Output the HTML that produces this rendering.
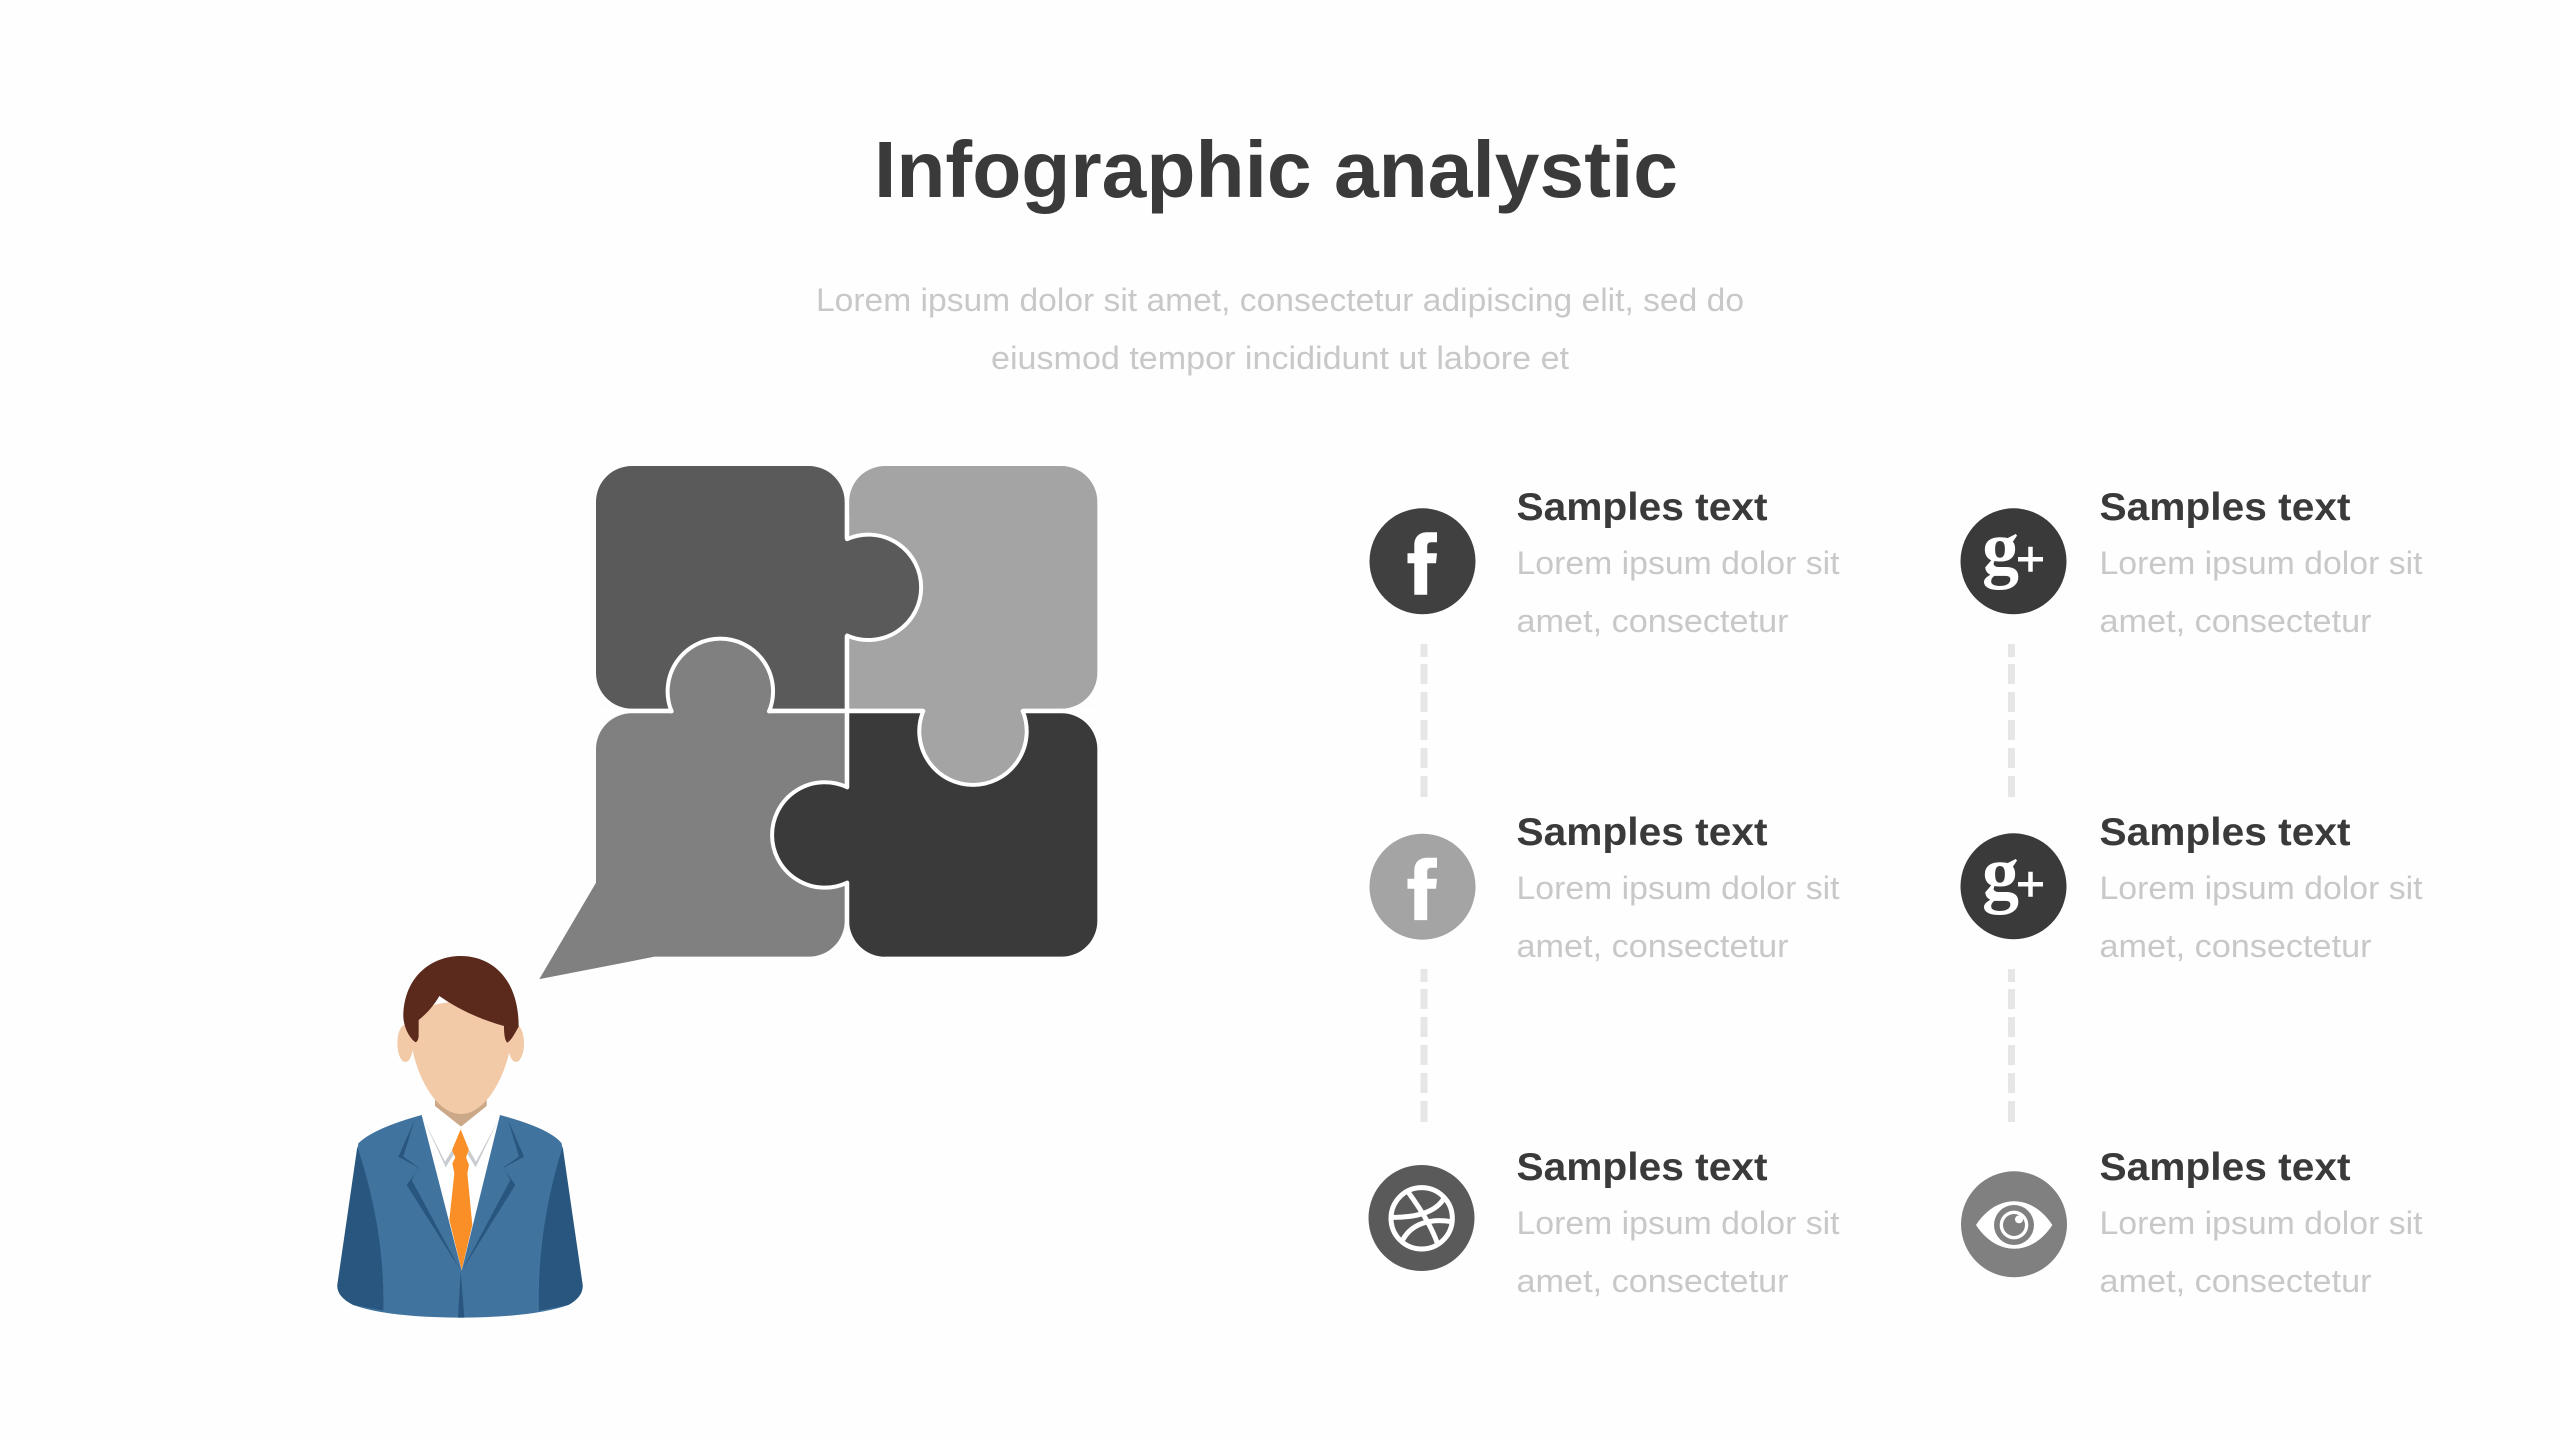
<!DOCTYPE html>
<html>
<head>
<meta charset="utf-8">
<title>Infographic analystic</title>
<style>
html,body{margin:0;padding:0;background:#fefefe;width:2560px;height:1440px;overflow:hidden}
svg{display:block}
text{font-family:"Liberation Sans",sans-serif}
.h{font-weight:700;font-size:39px;fill:#3a3a3a}
.p{font-size:32px;fill:#c8c8c8}
</style>
</head>
<body>
<svg width="2560" height="1440" viewBox="0 0 2560 1440" xmlns="http://www.w3.org/2000/svg">
<rect width="2560" height="1440" fill="#fefefe"/>

<text x="874" y="197" font-size="80" font-weight="700" fill="#3a3a3a" textLength="804" lengthAdjust="spacingAndGlyphs">Infographic analystic</text>
<text x="816" y="311" class="p" textLength="928" lengthAdjust="spacingAndGlyphs">Lorem ipsum dolor sit amet, consectetur adipiscing elit, sed do</text>
<text x="991" y="369" class="p" textLength="578" lengthAdjust="spacingAndGlyphs">eiusmod tempor incididunt ut labore et</text>

<!-- puzzle -->
<g transform="matrix(0.9947 0 0 0.9945 3.159 2.563)">
<path d="M632 466H810A36 36 0 0 1 846 502V710H632A36 36 0 0 1 596 674V502A36 36 0 0 1 632 466Z" fill="#5a5a5a"/>
<path d="M887 466H1064A36 36 0 0 1 1100 502V674A36 36 0 0 1 1064 710H850.500V502A36 36 0 0 1 887 466Z" fill="#a4a4a4"/>
<path d="M632 714.600H846V923A36 36 0 0 1 810 959.400H655L539 982L596 885V750.600A36 36 0 0 1 632 714.600Z" fill="#808080"/>
<path d="M850.500 714.600H1064A36 36 0 0 1 1100 750.600V923A36 36 0 0 1 1064 959.400H887A36 36 0 0 1 850.500 923Z" fill="#3b3a3b"/>
<g stroke-linecap="round">
<path d="M842 539.500H848.500A53 53 0 1 1 848.500 636.500H842Z" fill="#5a5a5a"/>
<path d="M848.500 539.500A53 53 0 1 1 848.500 636.500" fill="none" stroke="#fff" stroke-width="4"/>
<path d="M848.500 515V539.500M848.500 636.500V712" stroke="#fff" stroke-width="4" fill="none"/>
<path d="M672 718V712.800A53 53 0 1 1 770 712.800V718Z" fill="#808080"/>
<path d="M672 712.800A53 53 0 1 1 770 712.800" fill="none" stroke="#fff" stroke-width="4"/>
<path d="M596 712.300H672M770 712.300H850" stroke="#fff" stroke-width="4" fill="none"/>
<path d="M925 706V712.300A54 54 0 1 0 1025 712.300V706Z" fill="#a4a4a4"/>
<path d="M925 712.300A54 54 0 1 0 1025 712.300" fill="none" stroke="#fff" stroke-width="4"/>
<path d="M850 712.300H925M1025 712.300H1100" stroke="#fff" stroke-width="4" fill="none"/>
<path d="M855 789H848.500A53 53 0 1 0 848.500 885H855Z" fill="#3b3a3b"/>
<path d="M848.500 789A53 53 0 1 0 848.500 885" fill="none" stroke="#fff" stroke-width="4"/>
<path d="M848.500 714V789M848.500 885V925" stroke="#fff" stroke-width="4" fill="none"/>
</g>
</g>

<!-- person -->
<g transform="translate(320 930) scale(0.33333)">
<ellipse cx="256" cy="340" rx="24" ry="56" fill="#f2caa8"/>
<ellipse cx="588" cy="340" rx="24" ry="56" fill="#f2caa8"/>
<path d="M345 510V530L425 592L500 530V510Z" fill="#cba888"/>
<path d="M270 290C270 190 577 190 577 290C577 400 510 552 423 552C336 552 270 400 270 290Z" fill="#f2caa8"/>
<path d="M250 262C250 140 335 78 422 78C515 78 596 145 596 290C585 310 575 330 562 338C553 330 552 305 552 288C480 268 415 238 358 198C340 230 315 255 296 270V320C294 332 290 338 285 336C265 320 252 290 250 262Z" fill="#5c2a1d"/>
<path d="M306 555L345 528L423 590L500 528L540 555L425 1020Z" fill="#fff"/>
<path d="M312 570L375 695L397 660L402 672L377 712Z" fill="#c9cdd2"/>
<path d="M535 570L468 695L448 660L443 672L467 712Z" fill="#c9cdd2"/>
<path d="M422 598L447 660L438 682L447 705L442 730L457 885L425 1020L388 870L403 730L397 700L406 682L396 660Z" fill="#f98f26"/>
<path d="M305 555Q160 595 115 640L52 1065Q50 1100 100 1125Q200 1162 420 1163Q640 1162 745 1125Q790 1100 788 1065L725 640Q690 595 540 555L425 1022Z" fill="#41739f"/>
<path d="M112 650L52 1065Q50 1100 100 1125L190 1142Q195 900 112 650Z" fill="#28567f"/>
<path d="M728 650L788 1065Q790 1100 745 1125L657 1142Q650 900 728 650Z" fill="#28567f"/>
<path d="M422 1025L414 1163H433Z" fill="#28567f"/>
<path d="M283 572L235 680L297 714L260 765L420 1018L275 750L296 712L250 680Z" fill="#28567f"/>
<path d="M565 572L612 680L550 714L586 765L428 1018L571 750L550 712L597 680Z" fill="#28567f"/>
</g>

<!-- dashes -->
<g fill="#e6e6e6">
<rect x="1420.500" y="644" width="7" height="13"/><rect x="1420.500" y="664" width="7" height="20"/><rect x="1420.500" y="692" width="7" height="20"/><rect x="1420.500" y="720" width="7" height="20"/><rect x="1420.500" y="748" width="7" height="20"/><rect x="1420.500" y="776" width="7" height="21"/>
<rect x="1420.500" y="969" width="7" height="13"/><rect x="1420.500" y="989" width="7" height="20"/><rect x="1420.500" y="1017" width="7" height="20"/><rect x="1420.500" y="1045" width="7" height="20"/><rect x="1420.500" y="1073" width="7" height="20"/><rect x="1420.500" y="1101" width="7" height="21"/>
<rect x="2008" y="644" width="7" height="13"/><rect x="2008" y="664" width="7" height="20"/><rect x="2008" y="692" width="7" height="20"/><rect x="2008" y="720" width="7" height="20"/><rect x="2008" y="748" width="7" height="20"/><rect x="2008" y="776" width="7" height="21"/>
<rect x="2008" y="969" width="7" height="13"/><rect x="2008" y="989" width="7" height="20"/><rect x="2008" y="1017" width="7" height="20"/><rect x="2008" y="1045" width="7" height="20"/><rect x="2008" y="1073" width="7" height="20"/><rect x="2008" y="1101" width="7" height="21"/>
</g>

<!-- icons -->
<circle cx="1422.500" cy="561.300" r="53" fill="#404040"/>
<path transform="translate(1422 561.300)" d="M-7.700 33.400V2H-14.500V-8H-7.700V-16C-7.700 -25 -2 -29 5 -29H15V-19H9C6.500 -19 5.200 -17.500 5.200 -15V-8H15L14 2H5.200V33.400Z" fill="#fff"/>
<circle cx="1422.500" cy="886.700" r="53" fill="#a4a4a4"/>
<path transform="translate(1422 886.700)" d="M-7.700 33.400V2H-14.500V-8H-7.700V-16C-7.700 -25 -2 -29 5 -29H15V-19H9C6.500 -19 5.200 -17.500 5.200 -15V-8H15L14 2H5.200V33.400Z" fill="#fff"/>

<circle cx="2013.500" cy="561.300" r="53" fill="#3b3a3b"/>
<text x="1982" y="573" font-size="76" font-weight="700" fill="#fff" style='font-family:"Liberation Serif",serif' textLength="37" lengthAdjust="spacingAndGlyphs">g</text>
<path d="M2018 559.200H2043M2030.500 546.700V571.700" stroke="#fff" stroke-width="4.500" fill="none"/>
<circle cx="2013.500" cy="886.300" r="53" fill="#3b3a3b"/>
<text x="1982" y="898" font-size="76" font-weight="700" fill="#fff" style='font-family:"Liberation Serif",serif' textLength="37" lengthAdjust="spacingAndGlyphs">g</text>
<path d="M2018 884.200H2043M2030.500 871.700V896.700" stroke="#fff" stroke-width="4.500" fill="none"/>

<circle cx="1421.500" cy="1218" r="53" fill="#5a5a5a"/>
<g transform="translate(1340 1130) scale(0.33333)" fill="none" stroke="#fff" stroke-width="15">
<circle cx="245" cy="265" r="92"/>
<path d="M205 187C240 235 275 290 292 340"/>
<path d="M160 262C220 262 285 250 312 205"/>
<path d="M188 330C215 280 270 265 335 275"/>
</g>

<circle cx="2014" cy="1224.300" r="53" fill="#808080"/>
<g transform="translate(1940 1130) scale(0.33333)">
<path d="M108 285C170 190 275 190 337 285C275 380 170 380 108 285Z" fill="#fff"/>
<circle cx="222" cy="285" r="60" fill="#808080"/>
<circle cx="222" cy="285" r="43" fill="#fff"/>
<circle cx="222" cy="285" r="33" fill="#808080"/>
<circle cx="237" cy="268" r="12" fill="#fff"/>
</g>

<!-- column 1 text -->
<text x="1516.500" y="520" class="h" textLength="251" lengthAdjust="spacingAndGlyphs">Samples text</text>
<text x="1516.500" y="574" class="p" textLength="323" lengthAdjust="spacingAndGlyphs">Lorem ipsum dolor sit</text>
<text x="1516.500" y="632" class="p" textLength="272" lengthAdjust="spacingAndGlyphs">amet, consectetur</text>
<text x="1516.500" y="845" class="h" textLength="251" lengthAdjust="spacingAndGlyphs">Samples text</text>
<text x="1516.500" y="899" class="p" textLength="323" lengthAdjust="spacingAndGlyphs">Lorem ipsum dolor sit</text>
<text x="1516.500" y="957" class="p" textLength="272" lengthAdjust="spacingAndGlyphs">amet, consectetur</text>
<text x="1516.500" y="1180" class="h" textLength="251" lengthAdjust="spacingAndGlyphs">Samples text</text>
<text x="1516.500" y="1234" class="p" textLength="323" lengthAdjust="spacingAndGlyphs">Lorem ipsum dolor sit</text>
<text x="1516.500" y="1292" class="p" textLength="272" lengthAdjust="spacingAndGlyphs">amet, consectetur</text>

<!-- column 2 text -->
<text x="2099.500" y="520" class="h" textLength="251" lengthAdjust="spacingAndGlyphs">Samples text</text>
<text x="2099.500" y="574" class="p" textLength="323" lengthAdjust="spacingAndGlyphs">Lorem ipsum dolor sit</text>
<text x="2099.500" y="632" class="p" textLength="272" lengthAdjust="spacingAndGlyphs">amet, consectetur</text>
<text x="2099.500" y="845" class="h" textLength="251" lengthAdjust="spacingAndGlyphs">Samples text</text>
<text x="2099.500" y="899" class="p" textLength="323" lengthAdjust="spacingAndGlyphs">Lorem ipsum dolor sit</text>
<text x="2099.500" y="957" class="p" textLength="272" lengthAdjust="spacingAndGlyphs">amet, consectetur</text>
<text x="2099.500" y="1180" class="h" textLength="251" lengthAdjust="spacingAndGlyphs">Samples text</text>
<text x="2099.500" y="1234" class="p" textLength="323" lengthAdjust="spacingAndGlyphs">Lorem ipsum dolor sit</text>
<text x="2099.500" y="1292" class="p" textLength="272" lengthAdjust="spacingAndGlyphs">amet, consectetur</text>
</svg>
</body>
</html>
